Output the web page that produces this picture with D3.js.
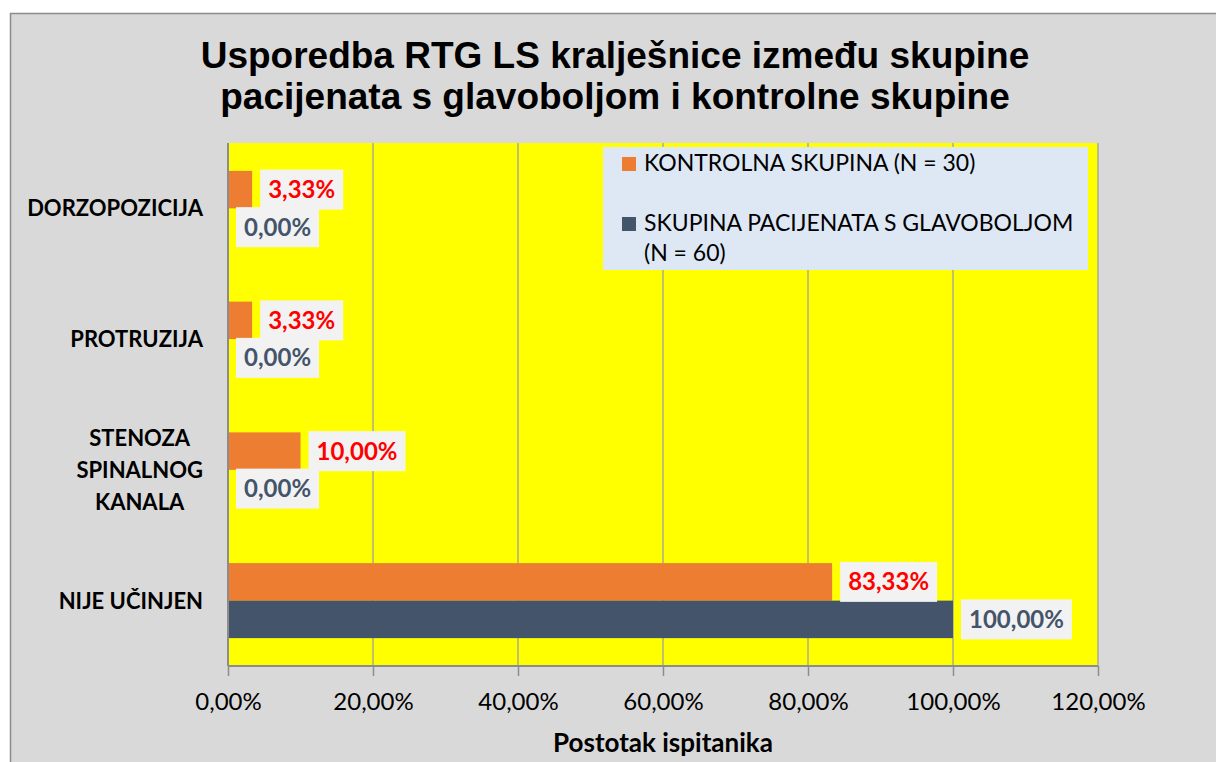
<!DOCTYPE html>
<html>
<head>
<meta charset="utf-8">
<script src="https://cdn.jsdelivr.net/npm/d3@7"></script>
<style>
  html, body { margin: 0; padding: 0; background: #ffffff; }
  svg { display: block; }
</style>
</head>
<body>
<svg id="chart" width="1216" height="762"></svg>
<script>
// Categories (top to bottom) and the two series, in percent
const categories = ["DORZOPOZICIJA", "PROTRUZIJA", "STENOZA SPINALNOG KANALA", "NIJE UČINJEN"];
const categoryLines = [["DORZOPOZICIJA"], ["PROTRUZIJA"], ["STENOZA", "SPINALNOG", "KANALA"], ["NIJE UČINJEN"]];
const seriesNames = ["KONTROLNA SKUPINA (N = 30)", "SKUPINA PACIJENATA S GLAVOBOLJOM (N = 60)"];
const kontrolna = [3.33, 3.33, 10.00, 83.33];
const pacijenti = [0.00, 0.00, 0.00, 100.00];
const xTicks = [0, 20, 40, 60, 80, 100, 120];
const titleLines = ["Usporedba RTG LS kralješnice između skupine", "pacijenata s glavoboljom i kontrolne skupine"];
const xTitle = "Postotak ispitanika";

const colors = { kontrolna: "#ed7d31", pacijenti: "#44546a" };
const labelColors = { kontrolna: "#ff0000", pacijenti: "#44546a" };
const bodyFont = "Lato, 'Open Sans', 'DejaVu Sans', sans-serif";
const fmt = v => v.toFixed(2).replace(".", ",") + "%";

const svg = d3.select("#chart");

// Chart area (extends past the right and bottom edges)
svg.append("rect")
  .attr("x", 10.5).attr("y", 13.5).attr("width", 1220).attr("height", 760)
  .attr("fill", "#d9d9d9").attr("stroke", "#8c8c8c").attr("stroke-width", 1.5);

// Title
svg.append("text")
  .attr("text-anchor", "middle")
  .attr("font-family", "'Liberation Sans', Arial, sans-serif")
  .attr("font-weight", "bold").attr("font-size", 37).attr("fill", "#000")
  .selectAll("tspan").data(titleLines).join("tspan")
  .attr("x", 615).attr("y", (d, i) => 68 + i * 41)
  .text(d => d);

// Plot area
const plot = { left: 228, right: 1098, top: 143, bottom: 666 };
const x = d3.scaleLinear().domain([0, 120]).range([plot.left, plot.right]);
const y0 = d3.scaleBand().domain(categories).range([plot.top, plot.bottom])
  .paddingInner(0.4264).paddingOuter(0.2132);
const keys = ["kontrolna", "pacijenti"];
const y1 = d3.scaleBand().domain(keys).range([0, y0.bandwidth()]);

svg.append("rect")
  .attr("x", plot.left).attr("y", plot.top)
  .attr("width", plot.right - plot.left).attr("height", plot.bottom - plot.top)
  .attr("fill", "#ffff00");

// Vertical gridlines
svg.append("g").selectAll("line").data(xTicks.slice(1)).join("line")
  .attr("x1", d => x(d)).attr("x2", d => x(d))
  .attr("y1", plot.top).attr("y2", plot.bottom)
  .attr("stroke", "#a0a0a0").attr("stroke-width", 1.3);

// Bars
const rows = categories.map((c, i) => ({ cat: c, kontrolna: kontrolna[i], pacijenti: pacijenti[i] }));
const groups = svg.append("g").selectAll("g").data(rows).join("g")
  .attr("transform", d => `translate(0,${y0(d.cat)})`);

groups.selectAll("rect").data(d => keys.map(k => ({ key: k, value: d[k] }))).join("rect")
  .attr("x", x(0)).attr("y", d => y1(d.key))
  .attr("width", d => x(d.value) - x(0)).attr("height", y1.bandwidth())
  .attr("fill", d => colors[d.key]);

// X axis
const xAxis = svg.append("g")
  .attr("transform", `translate(0,${plot.bottom})`)
  .call(d3.axisBottom(x).tickValues(xTicks).tickSize(10).tickFormat(d => fmt(d)));
xAxis.select(".domain").attr("stroke", "#8c8c8c").attr("stroke-width", 2)
  .attr("d", `M${plot.left},0H${plot.right}`);
xAxis.selectAll(".tick line").attr("stroke", "#8c8c8c").attr("stroke-width", 1.5);
xAxis.selectAll(".tick text")
  .attr("font-family", bodyFont).attr("font-size", 24).attr("fill", "#000")
  .attr("dy", 0).attr("y", 44);

// Y axis line
svg.append("line")
  .attr("x1", plot.left).attr("x2", plot.left)
  .attr("y1", plot.top).attr("y2", plot.bottom)
  .attr("stroke", "#8c8c8c").attr("stroke-width", 2);

// Category labels (lines centred within a right-aligned block)
const catG = svg.append("g")
  .attr("font-family", bodyFont).attr("font-weight", "bold").attr("font-size", 22).attr("fill", "#000");
categories.forEach((c, i) => {
  const lines = categoryLines[i];
  const cy = y0(c) + y0.bandwidth() / 2;
  const t = catG.append("text").attr("text-anchor", "middle");
  const spans = t.selectAll("tspan").data(lines).join("tspan")
    .attr("y", (d, j) => cy + (j - (lines.length - 1) / 2) * 32 + 8)
    .text(d => d);
  let maxW = 0;
  spans.each(function () { maxW = Math.max(maxW, this.getComputedTextLength()); });
  spans.attr("x", 203 - maxW / 2);
});

// Value labels on bars
const labelG = svg.append("g");
rows.forEach(r => {
  keys.forEach(k => {
    const v = r[k];
    const cy = y0(r.cat) + y1(k) + y1.bandwidth() / 2;
    const bx = x(v) + 8;
    const g = labelG.append("g");
    const box = g.append("rect").attr("fill", "#f2f2f2");
    const t = g.append("text")
      .attr("x", bx + 8).attr("y", cy + 8.5)
      .attr("font-family", bodyFont).attr("font-weight", "bold").attr("font-size", 24)
      .attr("fill", labelColors[k]).text(fmt(v));
    const w = t.node().getComputedTextLength();
    box.attr("x", bx).attr("y", cy - 20).attr("width", w + 16).attr("height", 40);
  });
});

// Legend
const lg = svg.append("g");
lg.append("rect").attr("x", 603).attr("y", 147).attr("width", 485).attr("height", 123).attr("fill", "#dee8f4");
const legendItems = [
  { key: "kontrolna", lines: ["KONTROLNA SKUPINA (N = 30)"], y: 171 },
  { key: "pacijenti", lines: ["SKUPINA PACIJENATA S GLAVOBOLJOM", "(N = 60)"], y: 231 }
];
legendItems.forEach(it => {
  lg.append("rect").attr("x", 622).attr("y", it.y - 14).attr("width", 14).attr("height", 14)
    .attr("fill", colors[it.key]);
  lg.append("text").attr("font-family", bodyFont).attr("font-size", 23).attr("fill", "#000")
    .selectAll("tspan").data(it.lines).join("tspan")
    .attr("x", 644).attr("y", (d, j) => it.y + j * 30).text(d => d);
});

// X axis title
svg.append("text")
  .attr("x", (plot.left + plot.right) / 2).attr("y", 752)
  .attr("text-anchor", "middle")
  .attr("font-family", bodyFont).attr("font-weight", "bold").attr("font-size", 26).attr("fill", "#000")
  .text(xTitle);
</script>
</body>
</html>
